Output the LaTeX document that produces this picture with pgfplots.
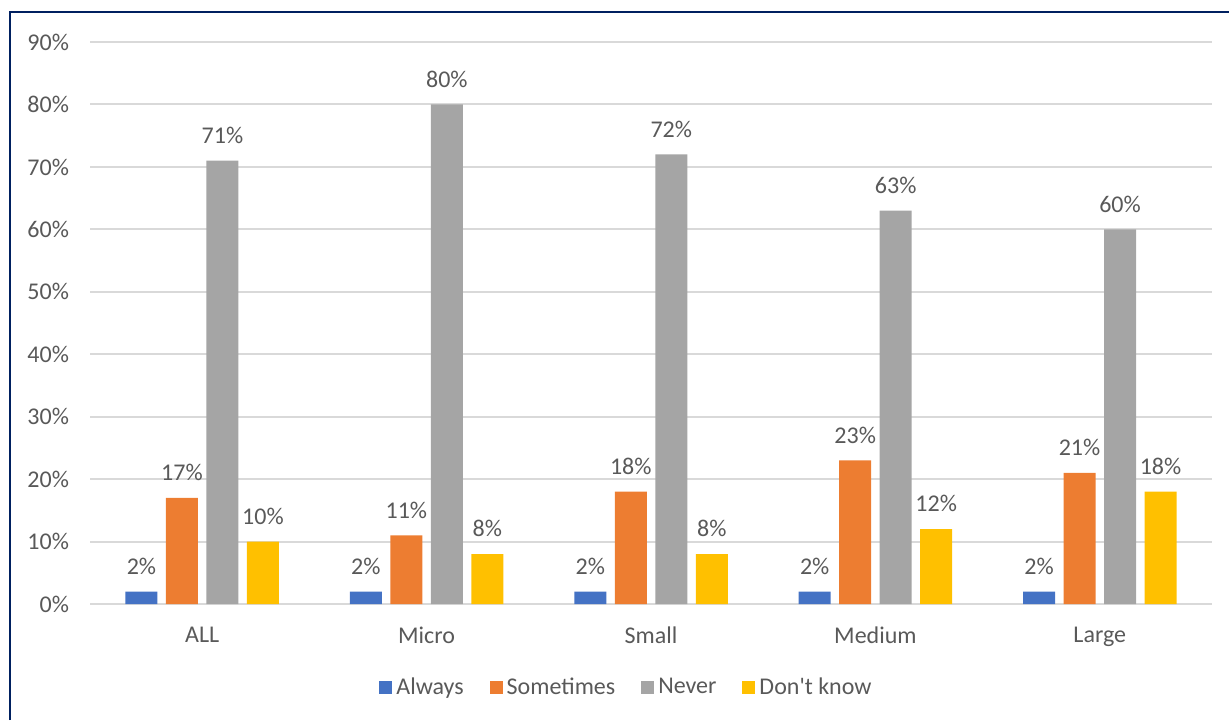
\documentclass[border=0pt]{standalone}
\usepackage{pgfplots}
\pgfplotsset{compat=1.18}
\usepackage{fontspec}
\setmainfont{Carlito}
\definecolor{cblue}{HTML}{4472C4}
\definecolor{corange}{HTML}{ED7D31}
\definecolor{cgray}{HTML}{A5A5A5}
\definecolor{cyellow}{HTML}{FFC000}
\definecolor{gridc}{HTML}{D9D9D9}
\definecolor{txt}{HTML}{595959}
\definecolor{navy}{HTML}{002060}
\begin{document}
\begin{tikzpicture}
\path[use as bounding box] (-45pt,-58pt) rectangle (569.5pt,302pt);
\draw[navy, line width=1pt] (-40pt,-58pt) -- (-40pt,296pt) -- (569.5pt,296pt);
\begin{axis}[
  at={(0pt,0pt)}, anchor=south west,
  scale only axis, width=561pt, height=281pt,
  xmin=-0.5, xmax=4.5, ymin=0, ymax=90,
  ybar=4.25pt, bar width=16pt,
  xtick={0,1,2,3,4},
  xticklabels={ALL,Micro,Small,Medium,Large},
  ytick={0,10,...,90},
  yticklabel={\pgfmathprintnumber{\tick}\%},
  /pgf/number format/assume math mode=true,
  major tick length=0pt,
  axis line style={draw=none},
  ymajorgrids, grid style={gridc, line width=1pt},
  tick label style={font=\fontsize{12pt}{14pt}\selectfont, text=txt},
  xticklabel style={yshift=-8pt},
  yticklabel style={xshift=-7pt},
  nodes near coords={\pgfmathprintnumber{\pgfplotspointmeta}\%},
  every node near coord/.append style={font=\fontsize{12pt}{14pt}\selectfont, text=txt, yshift=5pt},
  legend columns=4,
  legend style={at={(0.479,-0.149)}, anchor=center, draw=none, fill=none,
    font=\fontsize{12pt}{14pt}\selectfont, text=txt,
    /tikz/every even column/.append style={column sep=11pt}},
  legend image code/.code={\fill[#1] (0pt,-3.25pt) rectangle (6.5pt,3.25pt);},
]
\addplot[fill=cblue, draw=none] coordinates {(0,2) (1,2) (2,2) (3,2) (4,2)};
\addplot[fill=corange, draw=none] coordinates {(0,17) (1,11) (2,18) (3,23) (4,21)};
\addplot[fill=cgray, draw=none] coordinates {(0,71) (1,80) (2,72) (3,63) (4,60)};
\addplot[fill=cyellow, draw=none] coordinates {(0,10) (1,8) (2,8) (3,12) (4,18)};
\legend{Always, Sometimes, Never, Don\textquotesingle t know}
\end{axis}
\end{tikzpicture}
\end{document}
